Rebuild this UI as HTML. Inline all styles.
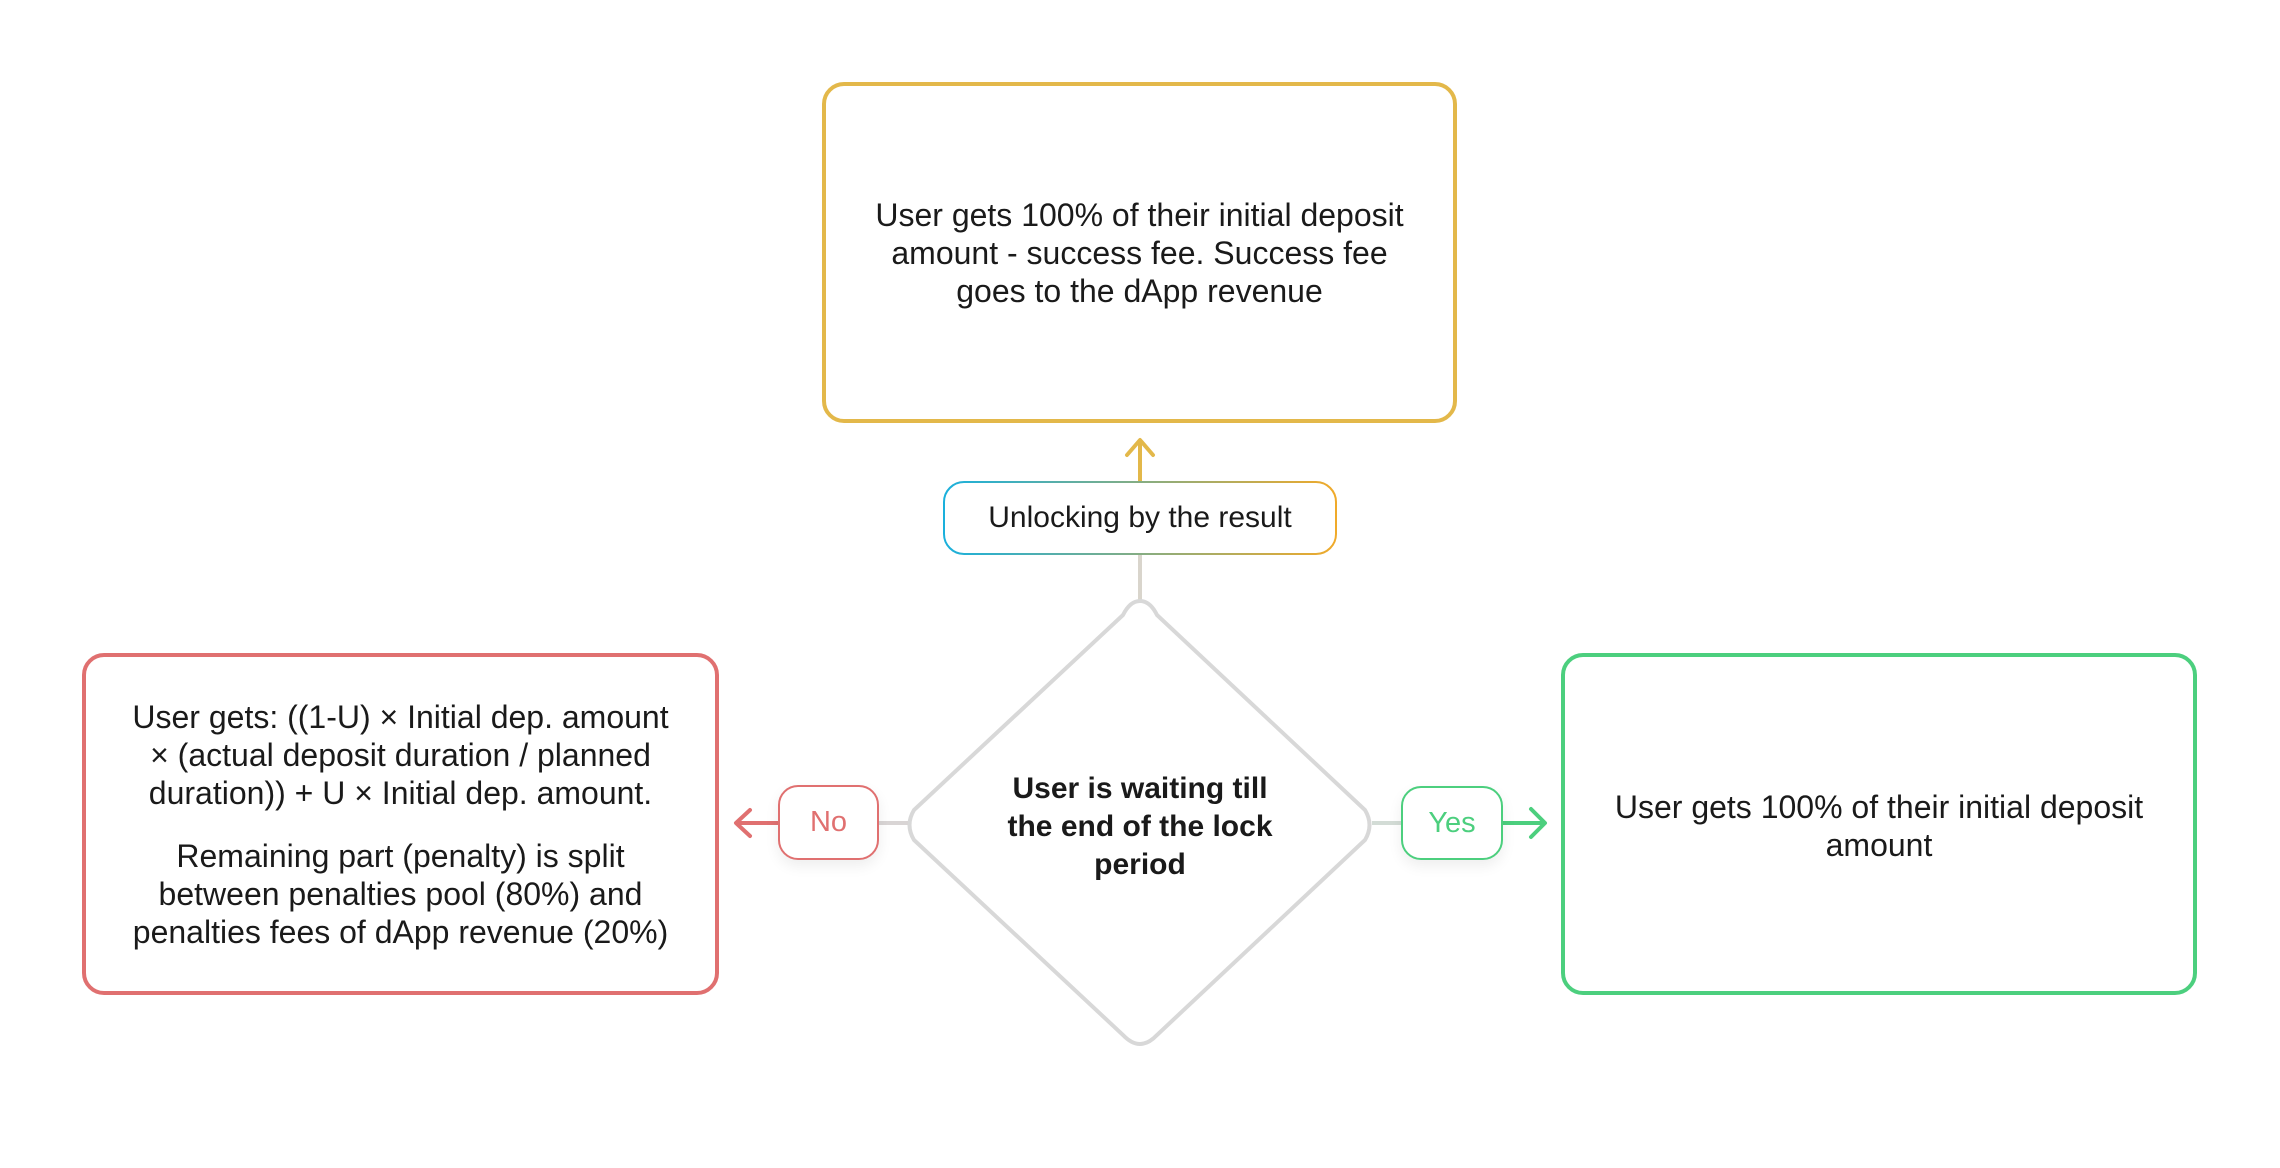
<!DOCTYPE html>
<html><head><meta charset="utf-8"><style>
body{margin:0;width:2280px;height:1168px;background:#fff;position:relative;overflow:hidden;font-family:"Liberation Sans",sans-serif;color:#1a1a1a}
.box{position:absolute;box-sizing:border-box;border:4px solid;border-radius:22px;display:flex;flex-direction:column;align-items:center;justify-content:center;text-align:center;font-size:32px;line-height:38px}
.pill{position:absolute;box-sizing:border-box;border:2px solid;border-radius:20px;background:#fff;display:flex;align-items:center;justify-content:center;font-size:29px;box-shadow:0 6px 14px rgba(0,0,0,0.07)}
svg{position:absolute;left:0;top:0}
p{margin:0}
</style></head><body>
<svg width="2280" height="1168">
<defs><linearGradient id="g" x1="0" x2="1"><stop offset="0" stop-color="#1ab0dc"/><stop offset="1" stop-color="#f0aa2a"/></linearGradient></defs>
<line x1="1140" y1="442" x2="1140" y2="482" stroke="#e3b84a" stroke-width="4"/>
<polyline points="1127,455 1140,440 1153,455" fill="none" stroke="#e3b84a" stroke-width="4" stroke-linecap="round" stroke-linejoin="round"/>
<line x1="1140" y1="554" x2="1140" y2="602" stroke="#d9d5cc" stroke-width="4"/>
<path d="M1140,601 Q1150,601 1157,615 L1365,810 Q1374,825 1365,840 L1157,1035 Q1140,1053 1123,1035 L914,840 Q905,825 914,810 L1123,615 Q1130,601 1140,601 Z" fill="#fff" stroke="#d8d8d8" stroke-width="4"/>
<line x1="879" y1="823" x2="908" y2="823" stroke="#d9d5d5" stroke-width="4"/>
<line x1="738" y1="823" x2="779" y2="823" stroke="#e07070" stroke-width="4"/>
<polyline points="750,810 736,823 750,836" fill="none" stroke="#e07070" stroke-width="4" stroke-linecap="round" stroke-linejoin="round"/>
<line x1="1372" y1="823" x2="1402" y2="823" stroke="#d3dcd6" stroke-width="4"/>
<line x1="1503" y1="823" x2="1544" y2="823" stroke="#4ccf7e" stroke-width="4"/>
<polyline points="1531,809 1545,823 1531,837" fill="none" stroke="#4ccf7e" stroke-width="4" stroke-linecap="round" stroke-linejoin="round"/>
<rect x="944" y="482" width="392" height="72" rx="20" fill="#fff" stroke="url(#g)" stroke-width="2"/>
</svg>
<div class="box" style="left:822px;top:82px;width:635px;height:341px;border-color:#e3b84a"><p>User gets 100% of their initial deposit<br>amount - success fee. Success fee<br>goes to the dApp revenue</p></div>
<div class="pill" style="left:944px;top:482px;width:392px;height:72px;border:none;background:transparent;box-shadow:none;font-size:30px">Unlocking by the result</div>
<div class="box" style="left:82px;top:653px;width:637px;height:342px;border-color:#e07070"><p>User gets: ((1-U) × Initial dep. amount<br>× (actual deposit duration / planned<br>duration)) + U × Initial dep. amount.</p><p style="margin-top:25px">Remaining part (penalty) is split<br>between penalties pool (80%) and<br>penalties fees of dApp revenue (20%)</p></div>
<div class="box" style="left:1561px;top:653px;width:636px;height:342px;border-color:#4ccf7e;justify-content:flex-start;padding-top:131px"><p>User gets 100% of their initial deposit<br>amount</p></div>
<div style="position:absolute;left:950px;top:770px;width:380px;text-align:center;font-size:30px;line-height:38px;font-weight:bold">User is waiting till<br>the end of the lock<br>period</div>
<div class="pill" style="left:778px;top:785px;width:101px;height:75px;border-color:#e07070;color:#e07070">No</div>
<div class="pill" style="left:1401px;top:786px;width:102px;height:74px;border-color:#4ccf7e;color:#4ccf7e">Yes</div>
</body></html>
